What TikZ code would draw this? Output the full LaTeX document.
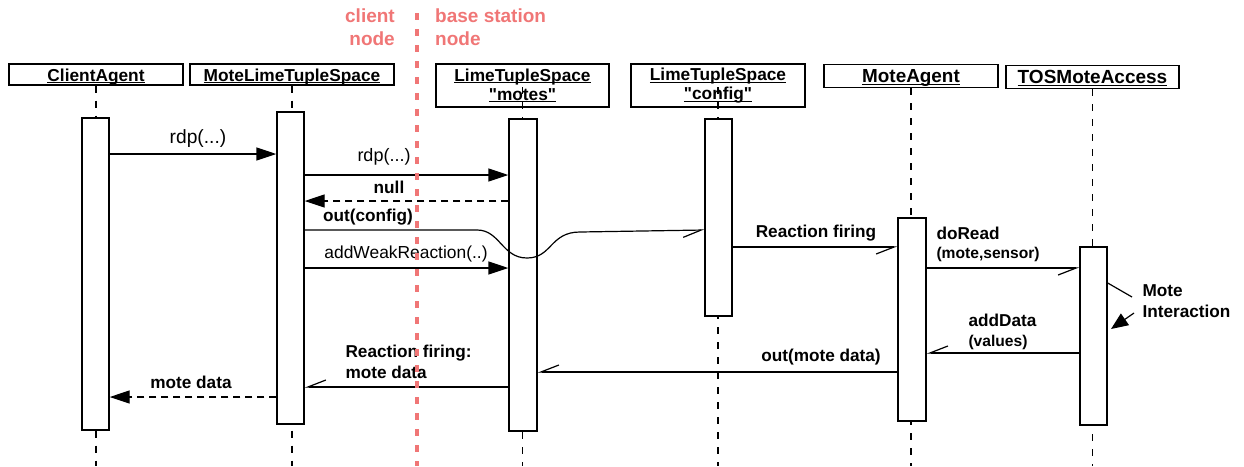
\documentclass[tikz,border=0pt]{standalone}
\usepackage{fontspec}
\setmainfont{Liberation Sans}[Ligatures=TeXOff]
\usetikzlibrary{arrows.meta}
\definecolor{salmonred}{RGB}{240,118,118}
\newsavebox\ulnbox
\newcommand{\uln}[1]{\sbox\ulnbox{#1}\rlap{\vrule width \wd\ulnbox height -1.1pt depth 2.4pt}\usebox\ulnbox}

\begin{document}
\begin{tikzpicture}[x=1pt,y=-1pt,
  obj/.style={draw,line width=1.4pt,inner sep=0pt,text height=15pt,text depth=2pt,font=\bfseries\fontsize{17.3}{20}\selectfont},
  objtwo/.style={draw,line width=1.4pt,inner sep=0pt,align=center,font=\bfseries\fontsize{17.3}{19}\selectfont},
  act/.style={draw,fill=white,line width=1.4pt,minimum width=27pt,inner sep=0pt},
  life/.style={line width=1.3pt,dash pattern=on 7pt off 8pt},
  call/.style={line width=1.5pt,-{Triangle[length=20pt,width=13pt]}},
  reply/.style={line width=1.3pt,dash pattern=on 7pt off 5pt,-{Triangle[length=20pt,width=13pt]}},
  async/.style={line width=1.2pt,-{Straight Barb[right,length=18pt,width=14pt]}},
  msg/.style={font=\fontsize{17.4}{20}\selectfont},
  bmsg/.style={font=\bfseries\fontsize{17.2}{21}\selectfont},
  smsg/.style={font=\bfseries\fontsize{15.6}{18}\selectfont}]

\useasboundingbox (0,0) rectangle (1244,466);

% objects
\node (ca) at (96,74.5) [obj,minimum width=174pt,minimum height=21pt]{\uln{ClientAgent}};
\node (mlts) at (292,74.5) [obj,minimum width=204pt,minimum height=21pt]{\uln{MoteLimeTupleSpace}};
\node (motes) at (522.5,85.5) [objtwo,minimum width=173pt,minimum height=43pt]{\uln{LimeTupleSpace}\\\uln{"motes"}};
\node (config) at (718,85.5) [objtwo,minimum width=174pt,minimum height=43pt]{\uln{LimeTupleSpace}\\\uln{"config"}};
\node (ma) at (911,76) [obj,minimum width=174pt,minimum height=23pt,font=\bfseries\fontsize{18.9}{20}\selectfont]{\uln{MoteAgent}};
\node (tos) at (1092.5,77) [obj,line width=1.9pt,minimum width=173pt,minimum height=23pt,font=\bfseries\fontsize{19}{20}\selectfont]{\uln{TOSMoteAccess}};

% lifelines
\draw[life] (ca.south) -- (ca.south |- 0,466);
\draw[life] (mlts.south) -- (mlts.south |- 0,466);
\draw[life] (motes.center |- 0,87) -- (motes.center |- 0,466);
\draw[life] (config.center |- 0,87) -- (config.center |- 0,466);
\draw[life] (ma.south) -- (ma.south |- 0,466);
\draw[life] (tos.south) -- (tos.south |- 0,466);

% activations
\node (caact) at (95.5,274) [act,minimum height=312pt]{};
\node (mltsact) at (290.5,268) [act,minimum height=312pt]{};
\node (motesact) at (523,275) [act,minimum width=28pt,minimum height=312pt]{};
\node (configact) at (718.5,217.5) [act,minimum height=197pt]{};
\node (maact) at (912,319.5) [act,minimum width=28pt,minimum height=203pt]{};
\node (tosact) at (1093.5,336) [act,minimum height=178pt]{};

% messages
\draw[call] (caact.east |- 0,154) -- (mltsact.west |- 0,154);
\node (rdp1) at (198,139) [msg,font=\fontsize{19.2}{22}\selectfont]{rdp(...)};
\draw[call] (mltsact.east |- 0,175) -- (motesact.west |- 0,175);
\node (rdp2) at (384,157) [msg,font=\fontsize{18}{22}\selectfont]{rdp(...)};
\draw[reply] (motesact.west |- 0,201) -- (mltsact.east |- 0,201);
\node (null) at (389,187) [bmsg]{null};
\draw[async] (mltsact.east |- 0,230) -- (477,230)
  .. controls (500,230) and (502,258) .. (527,258)
  .. controls (552,258) and (550,232) .. (580,232) -- (configact.west |- 0,230);
\node (outcfg) at (368,217) [bmsg]{out(config)};
\draw[call] (mltsact.east |- 0,268) -- (motesact.west |- 0,268);
\node (addweak) at (406,254) [msg]{addWeakReaction(..)};
\draw[async] (configact.east |- 0,247) -- (maact.west |- 0,247);
\node (rfire) at (816,233) [bmsg]{Reaction firing};
\draw[async] (maact.east |- 0,268) -- (tosact.west |- 0,268);
\node (doread) at (933,233) [bmsg,anchor=west]{doRead};
\node (doreadarg) at (933,254) [smsg,anchor=west]{(mote,sensor)};

\coordinate (mi1) at (1132,297);
\coordinate (mi2) at (1134,313);
\coordinate (mi3) at (1111,329);
\draw[line width=1.2pt] (tosact.east |- 0,283) -- (mi1);
\draw[line width=1.2pt,-{Triangle[length=17pt,width=14pt]}] (mi2) -- (mi3);
\node (moteint) at (1139,301) [bmsg,anchor=west,align=left]{Mote\\Interaction};

\draw[async] (tosact.west |- 0,353) -- (maact.east |- 0,353);
\node (adddata) at (965,320) [bmsg,anchor=west]{addData};
\node (adddataarg) at (965,342) [smsg,anchor=west]{(values)};
\draw[async] (maact.west |- 0,372) -- (motesact.east |- 0,372);
\node (outmote) at (821,357) [bmsg]{out(mote data)};
\draw[async] (motesact.west |- 0,387) -- (mltsact.east |- 0,387);
\node (rfiremote) at (342,361.5) [bmsg,anchor=west,align=left]{Reaction firing:\\mote data};
\draw[reply] (mltsact.west |- 0,397) -- (caact.east |- 0,397);
\node (motedata) at (191,382) [bmsg]{mote data};

% node boundary
\node (clientlbl) at (395,27.5) [anchor=east,inner sep=0pt,align=right,text=salmonred,font=\bfseries\fontsize{19}{23}\selectfont]{client\\node};
\node (baselbl) at (435,27.5) [anchor=west,inner sep=0pt,align=left,text=salmonred,font=\bfseries\fontsize{19}{23}\selectfont]{base station\\node};
\draw[salmonred,line width=3.3pt,dash pattern=on 7pt off 9pt] (417,13) -- (417,466);

\end{tikzpicture}
\end{document}
